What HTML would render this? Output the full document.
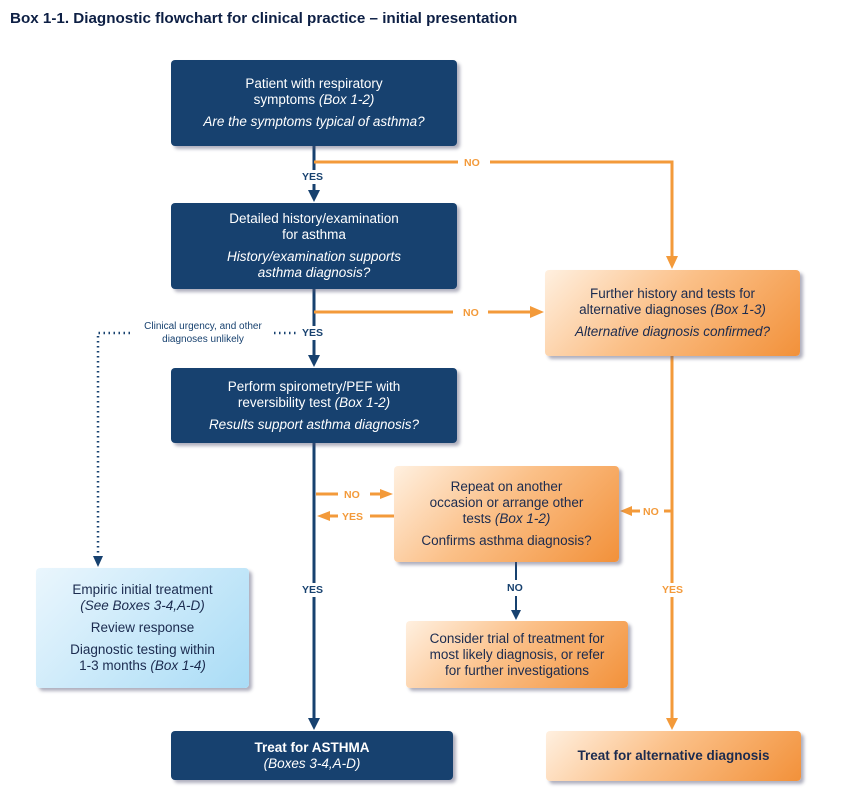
<!DOCTYPE html>
<html><head><style>
body{margin:0;width:844px;height:808px;background:#fff;position:relative;font-family:"Liberation Sans",sans-serif;overflow:hidden}
.b{position:absolute;box-sizing:border-box;text-align:center;font-size:13.5px;line-height:16px;border-radius:4px;display:flex;flex-direction:column;justify-content:center;box-shadow:3px 3px 3px rgba(80,80,110,.45)}
.n{background:#17416f;color:#fff}
.o{background:linear-gradient(135deg,#fff0e0 0%,#fbc088 45%,#f2913a 100%);color:#1b2b4f}
.l{background:linear-gradient(135deg,#eaf6fd,#a9dcf6);color:#1b2b4f}
.b p{margin:0}
.g{height:6px}
i{font-style:italic}
.t{position:absolute;font-size:10.5px;font-weight:bold;background:#fff;padding:1px 0}
</style></head><body>
<div style="position:absolute;left:10px;top:10px;font-size:15.2px;font-weight:bold;color:#0d1f44">Box 1-1. Diagnostic flowchart for clinical practice – initial presentation</div>
<svg width="844" height="808" style="position:absolute;left:0;top:0">
<g stroke="#17416f" stroke-width="3" fill="none">
<line x1="314" y1="146" x2="314" y2="192"/>
<line x1="314" y1="289" x2="314" y2="357"/>
<line x1="314" y1="443" x2="314" y2="720"/>
<line x1="516" y1="562" x2="516" y2="580" stroke-width="2"/>
<line x1="516" y1="596" x2="516" y2="612" stroke-width="2"/>
</g>
<g fill="#17416f">
<polygon points="308,190 320,190 314,202"/>
<polygon points="308,355 320,355 314,367"/>
<polygon points="308,718 320,718 314,730"/>
<polygon points="511,610 521,610 516,620"/>
<polygon points="93,556 103,556 98,567"/>
</g>
<g stroke="#17416f" stroke-width="2.5" stroke-dasharray="1.5 3.5" fill="none">
<polyline points="130,333 98,333 98,556"/>
<line x1="274" y1="333" x2="298" y2="333"/>
</g>
<g stroke="#f39a3a" stroke-width="3" fill="none">
<polyline points="314,162 458,162"/>
<polyline points="490,162 672,162 672,258"/>
<line x1="314" y1="312" x2="453" y2="312"/>
<line x1="488" y1="312" x2="532" y2="312"/>
<line x1="672" y1="356" x2="672" y2="720"/>
<line x1="664" y1="511" x2="672" y2="511"/>
<line x1="316" y1="494" x2="338" y2="494"/>
<line x1="370" y1="494" x2="382" y2="494"/>
<line x1="330" y1="516" x2="338" y2="516"/>
<line x1="370" y1="516" x2="394" y2="516"/>
<line x1="630" y1="511" x2="640" y2="511"/>
</g>
<g fill="#f39a3a">
<polygon points="666,256 678,256 672,269"/>
<polygon points="530,306 530,318 544,312"/>
<polygon points="380,489 380,499 393,494"/>
<polygon points="330,511 330,521 317,516"/>
<polygon points="632,506 632,516 620,511"/>
<polygon points="666,718 678,718 672,730"/>
</g>
</svg>
<div class="t" style="left:302px;top:170px;color:#17416f">YES</div>
<div class="t" style="left:464px;top:156px;color:#f39a3a">NO</div>
<div class="t" style="left:463px;top:306px;color:#f39a3a">NO</div>
<div class="t" style="left:302px;top:326px;color:#17416f">YES</div>
<div style="position:absolute;left:128px;top:320px;width:150px;font-size:10px;line-height:13px;color:#17416f;text-align:center">Clinical urgency, and other diagnoses unlikely</div>
<div class="t" style="left:344px;top:488px;color:#f39a3a">NO</div>
<div class="t" style="left:342px;top:510px;color:#f39a3a">YES</div>
<div class="t" style="left:643px;top:505px;color:#f39a3a">NO</div>
<div class="t" style="left:507px;top:581px;color:#17416f">NO</div>
<div class="t" style="left:302px;top:583px;color:#17416f">YES</div>
<div class="t" style="left:662px;top:583px;color:#f39a3a">YES</div>

<div class="b n" style="left:171px;top:60px;width:286px;height:86px"><p>Patient with respiratory<br>symptoms <i>(Box 1-2)</i></p><div class="g"></div><p><i>Are the symptoms typical of asthma?</i></p></div>
<div class="b n" style="left:171px;top:203px;width:286px;height:86px"><p>Detailed history/examination<br>for asthma</p><div class="g"></div><p><i>History/examination supports<br>asthma diagnosis?</i></p></div>
<div class="b n" style="left:171px;top:368px;width:286px;height:75px"><p>Perform spirometry/PEF with<br>reversibility test <i>(Box 1-2)</i></p><div class="g"></div><p><i>Results support asthma diagnosis?</i></p></div>
<div class="b l" style="left:36px;top:568px;width:213px;height:120px"><p>Empiric initial treatment<br><i>(See Boxes 3-4,A-D)</i></p><div class="g"></div><p>Review response</p><div class="g"></div><p>Diagnostic testing within<br>1-3 months <i>(Box 1-4)</i></p></div>
<div class="b n" style="left:171px;top:731px;width:282px;height:49px"><p><b>Treat for ASTHMA</b><br><i>(Boxes 3-4,A-D)</i></p></div>
<div class="b o" style="left:545px;top:270px;width:255px;height:86px"><p>Further history and tests for<br>alternative diagnoses <i>(Box 1-3)</i></p><div class="g"></div><p><i>Alternative diagnosis confirmed?</i></p></div>
<div class="b o" style="left:394px;top:466px;width:225px;height:96px"><p>Repeat on another<br>occasion or arrange other<br>tests <i>(Box 1-2)</i></p><div class="g"></div><p>Confirms asthma diagnosis?</p></div>
<div class="b o" style="left:406px;top:621px;width:222px;height:67px"><p>Consider trial of treatment for<br>most likely diagnosis, or refer<br>for further investigations</p></div>
<div class="b o" style="left:546px;top:731px;width:255px;height:50px"><p><b>Treat for alternative diagnosis</b></p></div>
</body></html>
